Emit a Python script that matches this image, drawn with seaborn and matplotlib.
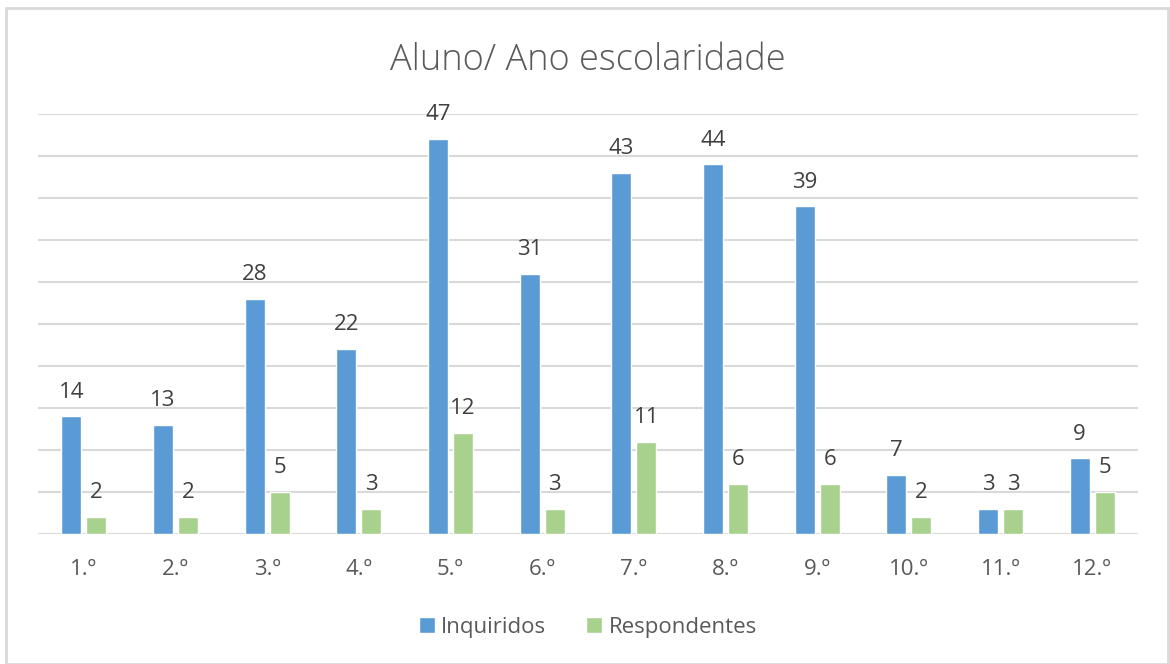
import matplotlib
matplotlib.use("Agg")
import matplotlib.pyplot as plt
import seaborn as sns
import pandas as pd
from matplotlib.patches import Rectangle

categories = ["1.º", "2.º", "3.º", "4.º", "5.º", "6.º", "7.º", "8.º", "9.º", "10.º", "11.º", "12.º"]
inquiridos = [14, 13, 28, 22, 47, 31, 43, 44, 39, 7, 3, 9]
respondentes = [2, 2, 5, 3, 12, 3, 11, 6, 6, 2, 3, 5]
series_names = ["Inquiridos", "Respondentes"]
colors = ["#5B9BD5", "#A9D18E"]

df = pd.DataFrame({
    "ano": categories * 2,
    "valor": inquiridos + respondentes,
    "serie": [series_names[0]] * len(categories) + [series_names[1]] * len(categories),
})

sns.set_theme(style="white")
plt.rcParams['font.family'] = ['Open Sans', 'DejaVu Sans']
text_color = "#595959"

fig = plt.figure(figsize=(11.7, 6.64), dpi=100)
ax = fig.add_axes([38/1170, 1 - 534/664, 1100/1170, (534 - 114)/664])

sns.barplot(data=df, x="ano", y="valor", hue="serie", palette=colors,
            width=0.545, gap=0.19, ax=ax, legend=True, saturation=1)

ax.set_ylim(0, 50)
ax.set_xlim(-0.5, len(categories) - 0.5)
ax.set_yticks(range(0, 51, 5))
ax.yaxis.grid(True, color="#D9D9D9", linewidth=1.5)
ax.set_axisbelow(True)
ax.tick_params(axis="y", left=False, labelleft=False)
ax.tick_params(axis="x", bottom=False, labelsize=16, colors=text_color, pad=12)
for s in ax.spines.values():
    s.set_visible(False)
ax.set_xlabel("")
ax.set_ylabel("")

for cont in ax.containers:
    ax.bar_label(cont, padding=10, fontsize=16, color="#404040")

ax.set_title("Aluno/ Ano escolaridade", fontsize=26, color=text_color, pad=32, fontweight="light")

leg = ax.legend(loc="upper center", bbox_to_anchor=(0.5, -0.15), ncol=2, frameon=False,
                fontsize=16, handlelength=0.7, handleheight=0.7, handletextpad=0.3,
                columnspacing=1.8)
for t in leg.get_texts():
    t.set_color(text_color)

fig.patches.append(Rectangle((6/1170, 0), 1162/1170, 1 - 8/664, transform=fig.transFigure,
                             fill=False, edgecolor="#D9D9D9", linewidth=2))

fig.savefig("out.png", dpi=100)
